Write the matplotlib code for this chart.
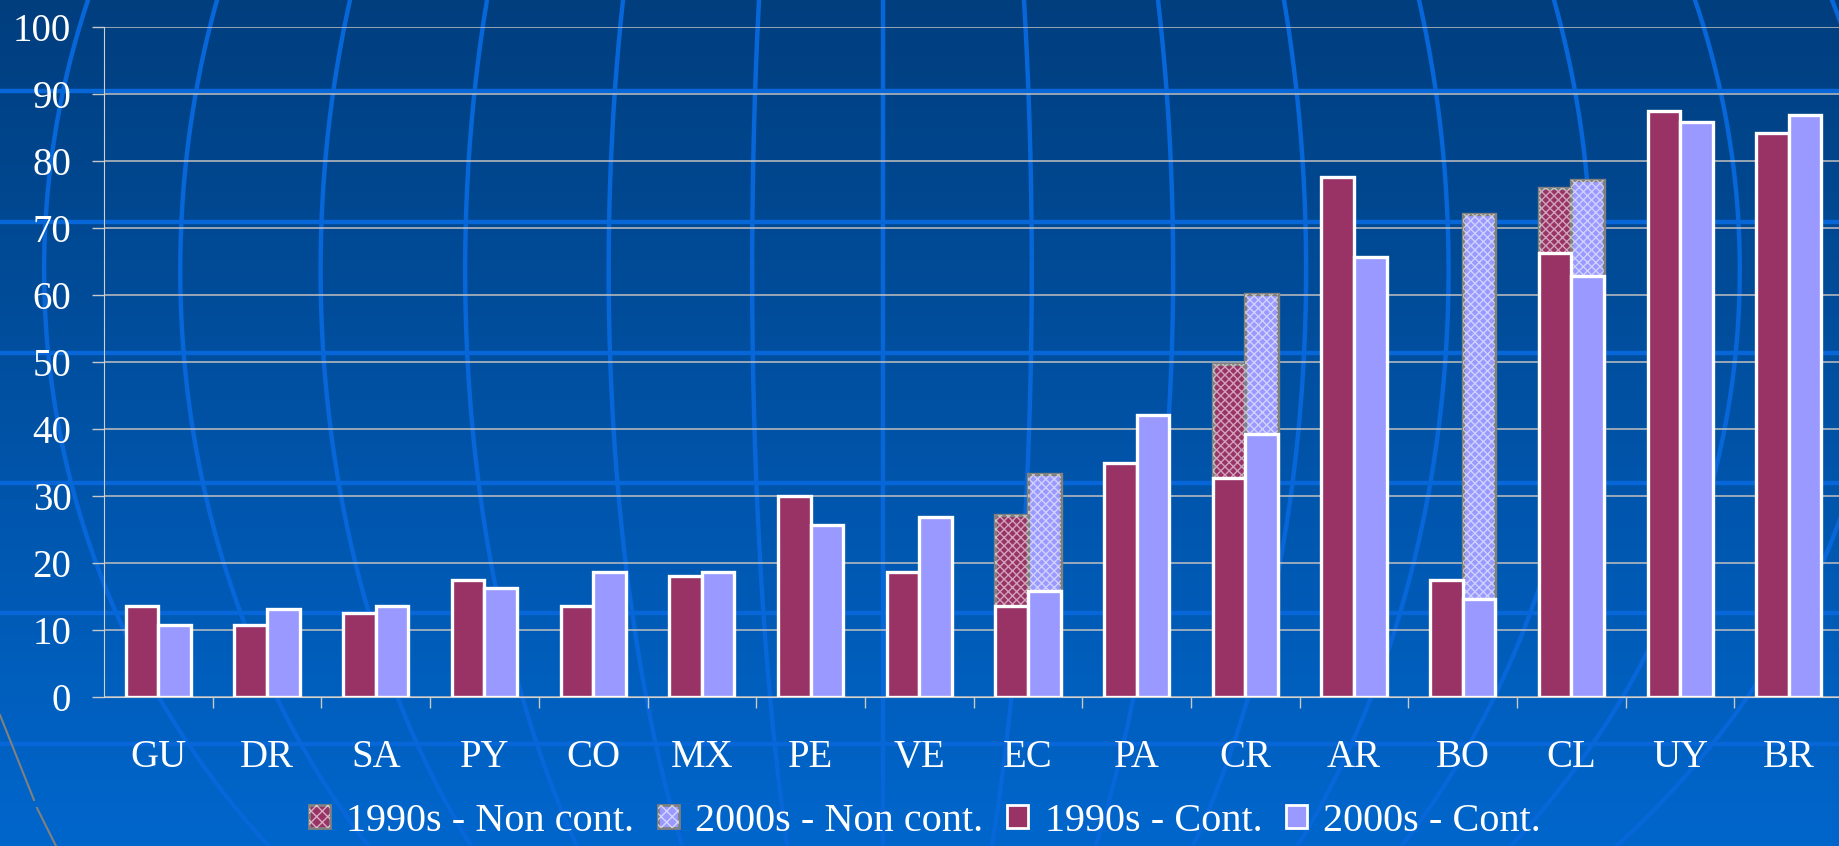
import numpy as np
import matplotlib.pyplot as plt
from matplotlib.patches import Patch

plt.rcParams['font.family'] = ['Liberation Serif', 'DejaVu Serif']

# data
countries = ['GU', 'DR', 'SA', 'PY', 'CO', 'MX', 'PE', 'VE',
             'EC', 'PA', 'CR', 'AR', 'BO', 'CL', 'UY', 'BR']
cont_1990 = [13.6, 10.8, 12.6, 17.4, 13.6, 18.0, 30.0, 18.6,
             13.6, 34.9, 32.7, 77.6, 17.4, 66.2, 87.5, 84.2]
cont_2000 = [10.8, 13.1, 13.6, 16.3, 18.6, 18.6, 25.7, 26.9,
             15.8, 42.1, 39.3, 65.7, 14.7, 62.8, 85.8, 86.9]
nan = np.nan
# coverage incl. non-contributory pensions (only where reported)
total_1990 = [nan, nan, nan, nan, nan, nan, nan, nan,
              27.2, nan, 49.7, nan, nan, 76.0, nan, nan]
total_2000 = [nan, nan, nan, nan, nan, nan, nan, nan,
              33.3, nan, 60.1, nan, 72.1, 77.1, nan, nan]
yticks = list(range(0, 101, 10))

c90 = '#993366'
c00 = '#9999ff'

W, H = 1839, 846
fig = plt.figure(figsize=(W / 100, H / 100), dpi=100)

# background: blue gradient with a globe grid
bg = fig.add_axes([0, 0, 1, 1], zorder=-5)
bg.set_xlim(0, W)
bg.set_ylim(H, 0)
bg.axis('off')
top = np.array([0, 62, 126]) / 255
bot = np.array([0, 102, 204]) / 255
t = np.linspace(0, 1, 256)[:, None]
grad = top + (bot - top) * t
bg.imshow(grad[:, None, :].repeat(2, axis=1), extent=[0, W, H, 0], aspect='auto')
line_blue = '#0766d8'
for yy in [91, 222, 353, 483, 613, 744]:
    bg.plot([0, W], [yy, yy], color=line_blue, lw=3.2)
merid_top = [88, 217, 350, 487, 623, 759, 883, 1024, 1158, 1284, 1419, 1554, 1695, 1832]
ys = np.linspace(0, H, 200)
f = np.sqrt(1 - ((ys - 270) / 846) ** 2) / 0.9477
for x0 in merid_top:
    bg.plot(883 + (x0 - 883) * f, ys, color=line_blue, lw=3.2)
bg.plot([0, 34], [715, 800], color='#808080', lw=1.5)
bg.plot([37, 56], [808, 846], color='#808080', lw=1.5)

# main chart
ax = fig.add_axes([104 / W, 149 / H, 16 * 108.7 / W, 670 / H])
ax.set_facecolor('none')
x = np.arange(len(countries))
w = 0.3

# non-contributory (hatched) bars behind
ax.bar(x - w / 2, total_1990, w, color=c90, edgecolor='#808080', lw=2.4, zorder=2)
ax.bar(x - w / 2, total_1990, w, color='none', edgecolor=(1, 1, 1, 0.55), lw=0, hatch='xxxx', zorder=2.1)
ax.bar(x + w / 2, total_2000, w, color=c00, edgecolor='#808080', lw=2.4, zorder=2)
ax.bar(x + w / 2, total_2000, w, color='none', edgecolor=(1, 1, 1, 0.55), lw=0, hatch='xxxx', zorder=2.1)

# contributory bars
ax.bar(x - w / 2, cont_1990, w, color=c90, edgecolor='white', lw=2.4, zorder=3)
ax.bar(x + w / 2, cont_2000, w, color=c00, edgecolor='white', lw=2.4, zorder=3)

ax.set_xlim(-0.5, len(countries) - 0.5)
ax.set_ylim(0, 100)
ax.set_yticks(yticks)
ax.tick_params(axis='y', colors='#c8c8c8', length=8.5, width=1, pad=15, labelsize=28, labelcolor='white')
ax.set_xticks(x)
ax.set_xticklabels(countries)
ax.set_xticks(np.arange(len(countries)) + 0.5, minor=True)
ax.tick_params(axis='x', which='major', length=0, pad=30, labelsize=28, labelcolor='white')
ax.tick_params(axis='x', which='minor', length=8, width=1, color='#c8c8c8')
ax.grid(axis='y', color='#c0c0c0', lw=1.1, zorder=1)
ax.set_axisbelow(True)
for s in ['top', 'right']:
    ax.spines[s].set_visible(False)
ax.spines['left'].set_color('#d0d0d0')
ax.spines['bottom'].set_color('#d0d0d0')
ax.spines['left'].set_bounds(0, 100)

# legend
h1 = (Patch(facecolor=c90, edgecolor='#808080', lw=2),
      Patch(facecolor='none', edgecolor=(1, 1, 1, 0.6), lw=0, hatch='xxx'))
h2 = (Patch(facecolor=c00, edgecolor='#808080', lw=2),
      Patch(facecolor='none', edgecolor=(1, 1, 1, 0.6), lw=0, hatch='xxx'))
h3 = Patch(facecolor=c90, edgecolor='white', lw=2)
h4 = Patch(facecolor=c00, edgecolor='white', lw=2)
fig.legend([h1, h2, h3, h4],
           ['1990s - Non cont.', '2000s - Non cont.', '1990s - Cont.', '2000s - Cont.'],
           loc='center', bbox_to_anchor=(0.503, 0.029), ncol=4, frameon=False,
           fontsize=29, labelcolor='white', handlelength=0.52, handleheight=0.52,
           handletextpad=0.4, columnspacing=0.6, borderpad=0)

fig.savefig('out.png', dpi=100)
